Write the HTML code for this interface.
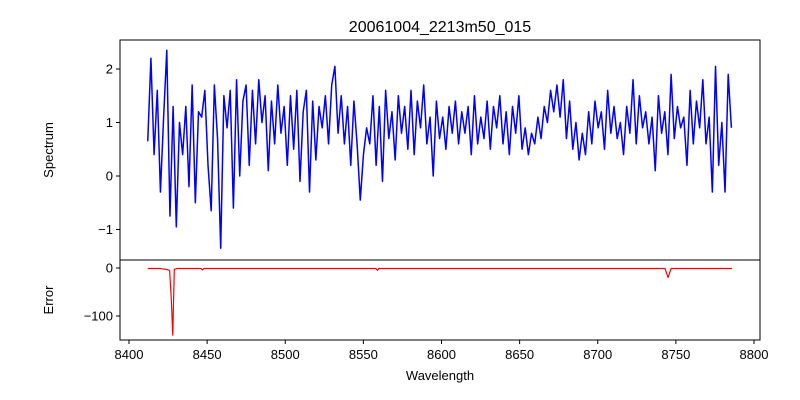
<!DOCTYPE html>
<html><head><meta charset="utf-8"><style>
html,body{margin:0;padding:0;background:#fff;}
svg{display:block;font-family:"Liberation Sans","DejaVu Sans",sans-serif;}
</style></head><body>
<svg id="chart" width="800" height="400" viewBox="0 0 800 400">
<rect width="800" height="400" fill="#fff"/>
<text x="440" y="32" text-anchor="middle" font-size="16">20061004_2213m50_015</text>
<g id="topPanel"></g>
<g id="botPanel"></g>
<text x="440" y="380" text-anchor="middle" font-size="13">Wavelength</text>
<text transform="translate(53,150) rotate(-90)" text-anchor="middle" font-size="13">Spectrum</text>
<text transform="translate(53,300) rotate(-90)" text-anchor="middle" font-size="13">Error</text>
</svg>
<script>
const specStart = 8412;
const specStep = 2.03;
const specValues = [
0.65,2.2,0.4,1.6,-0.3,1.1,2.35,-0.75,1.3,-0.95,
1.0,0.4,1.3,-0.2,1.7,-0.5,1.2,1.1,1.6,0.2,
-0.65,1.7,0.7,-1.35,1.5,0.9,1.6,-0.6,1.8,0.0,
1.4,1.7,0.2,1.6,0.6,1.8,1.0,1.5,0.1,1.4,
0.6,1.7,0.8,1.3,0.2,1.5,0.5,1.6,-0.1,1.2,
1.6,-0.3,1.4,0.3,1.3,0.9,1.5,0.6,1.7,2.05,
0.8,1.5,0.6,1.3,0.2,1.4,0.6,-0.45,0.4,0.9,
0.6,1.5,0.2,1.3,-0.1,1.6,0.7,1.2,0.3,1.5,
0.8,1.3,0.5,1.6,0.4,1.4,0.9,1.7,0.6,1.1,
0.0,1.4,0.7,1.1,0.5,1.3,0.8,1.4,0.6,1.2,
0.8,1.3,0.4,1.5,0.6,1.1,0.7,1.4,0.5,1.3,
0.9,1.5,0.6,1.2,0.4,1.3,0.8,1.5,0.5,0.9,
0.4,0.8,0.6,1.1,0.7,1.3,1.0,1.6,1.2,1.7,
1.1,1.8,0.7,1.4,0.5,1.0,0.3,0.8,0.4,1.2,
0.6,1.4,0.9,1.2,0.5,1.6,0.8,1.3,0.7,1.0,
0.4,1.3,0.8,1.8,0.6,1.5,0.9,1.2,0.6,1.1,
0.1,1.5,0.8,1.2,0.4,1.9,0.7,1.3,0.9,1.1,
0.2,1.6,0.6,1.4,0.9,1.8,0.6,1.1,-0.3,2.05,
0.2,1.0,-0.3,1.9,0.9];
const errWave = [8412,8420,8424,8426,8427,8428,8429,8431,8436,8446,8447,8448,8558,8559,8560,8743,8745,8747,8786];
const errVal = [-1,-1,-3,-5,-60,-140,-3,-1,-1,-1,-4,-1,-1,-5,-1,-1,-20,-1,-1];
const xTicks = [8400,8450,8500,8550,8600,8650,8700,8750,8800];
const yTicksTop = [-1,0,1,2];
const yTicksBot = [0,-100];

const NS = "http://www.w3.org/2000/svg";
const X0 = 120, X1 = 760;
const xs = w => 129 + (w - 8400) * 1.5625;
const ysTop = v => 176 - v * 53.5;
const ysBot = v => 268 - v * 0.48;
function mk(tag, attrs, parent) {
  const e = document.createElementNS(NS, tag);
  for (const k in attrs) e.setAttribute(k, attrs[k]);
  parent.appendChild(e);
  return e;
}
const topG = document.getElementById('topPanel');
const botG = document.getElementById('botPanel');

let d = specValues.map((v, i) => (i ? 'L' : 'M') + xs(specStart + i * specStep).toFixed(2) + ',' + ysTop(v).toFixed(2)).join('');
const sl = mk('path', {d: d, fill: 'none', stroke: '#0000ff', 'stroke-width': 1.5, 'stroke-linejoin': 'round'}, topG);



d = errVal.map((v, i) => (i ? 'L' : 'M') + xs(errWave[i]).toFixed(2) + ',' + ysBot(v).toFixed(2)).join('');
const el = mk('path', {d: d, fill: 'none', stroke: '#ff0000', 'stroke-width': 1.2, 'stroke-linejoin': 'round'}, botG);



const f1 = mk('rect', {x: X0, y: 40, width: X1 - X0, height: 220, fill: 'none', stroke: '#000', 'stroke-width': 1}, topG);


const f2 = mk('rect', {x: X0, y: 260, width: X1 - X0, height: 80, fill: 'none', stroke: '#000', 'stroke-width': 1}, botG);



xTicks.forEach(t => {
  const x = xs(t);
  const tk = mk('line', {x1: x, x2: x, y1: 340, y2: 344, stroke: '#000'}, botG);
  
  
  const tx = mk('text', {x: x, y: 359, 'text-anchor': 'middle', 'font-size': 13}, botG);
  tx.textContent = t;
  
  
});
yTicksTop.forEach(t => {
  const y = ysTop(t);
  const tk = mk('line', {x1: X0 - 4, x2: X0, y1: y, y2: y, stroke: '#000'}, topG);
  
  
  const tx = mk('text', {x: X0 - 7, y: y + 4.5, 'text-anchor': 'end', 'font-size': 13}, topG);
  tx.textContent = t < 0 ? '\u2212' + Math.abs(t) : t;
  
  
});
yTicksBot.forEach(t => {
  const y = ysBot(t);
  const tk = mk('line', {x1: X0 - 4, x2: X0, y1: y, y2: y, stroke: '#000'}, botG);
  
  
  const tx = mk('text', {x: X0 - 7, y: y + 4.5, 'text-anchor': 'end', 'font-size': 13}, botG);
  tx.textContent = t < 0 ? '\u2212' + Math.abs(t) : t;
  
  
});
</script>
</body></html>
